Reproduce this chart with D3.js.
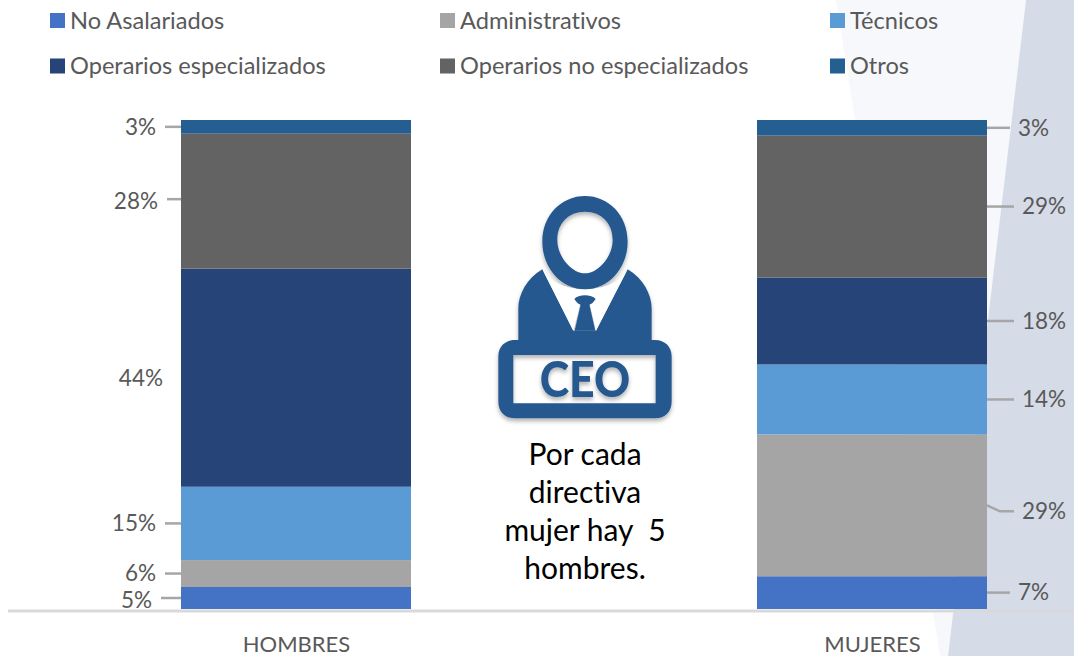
<!DOCTYPE html>
<html>
<head>
<meta charset="utf-8">
<script src="https://cdn.jsdelivr.net/npm/d3@7/dist/d3.min.js"></script>
<style>
html,body{margin:0;padding:0;background:#fff}
svg{display:block}
text{font-family:Lato,"Open Sans",sans-serif;font-variant-ligatures:none}
</style>
</head>
<body>
<div class="chart"></div>
<script>
const categories=['HOMBRES','MUJERES']
const seriesNames=['No Asalariados','Administrativos','Técnicos','Operarios especializados','Operarios no especializados','Otros']
const hombres=[4.5,5.5,15,44.6,27.6,2.8]
const mujeres=[6.7,29,14.3,17.8,29,3.2]
const hombresLabels=['5%','6%','15%','44%','28%','3%']
const mujeresLabels=['7%','29%','14%','18%','29%','3%']
const captionLines=['Por cada','directiva','mujer hay  5','hombres.']
const seriesColors=['#4472c4','#a5a5a5','#5b9bd5','#264478','#636363','#255e91']

const width=1074,height=656
const barWidth=230
const textColor='#595959',leaderColor='#a6a6a6'

let svg=d3.select('.chart').append('svg')
    .attr('width',width)
    .attr('height',height)

// slide background
svg.append('rect').attr('width',width).attr('height',height).attr('fill','#fff')
svg.append('path').attr('d','M836,0 L1026,0 L948,656 L940,656 Z').attr('fill','#f6f8fb')
svg.append('path').attr('d','M1026,0 L1074,0 L1074,656 L948,656 Z').attr('fill','#d5dce8')

const x=d3.scalePoint().domain(categories).range([296,872])
const y=d3.scaleLinear().domain([0,100]).range([609,120])

const rows=categories.map((c,i)=>{
    const vals=i==0?hombres:mujeres
    const row={category:c}
    seriesNames.forEach((s,j)=>row[s]=vals[j])
    return row
})
const stacked=d3.stack().keys(seriesNames)(rows)

// baseline
svg.append('line')
    .attr('x1',8).attr('x2',width)
    .attr('y1',611).attr('y2',611)
    .attr('stroke','#d9d9d9').attr('stroke-width',3)

stacked.forEach((layer,j)=>{
    svg.append('g').selectAll('rect')
        .data(layer)
        .join('rect')
        .attr('x',d=>x(d.data.category)-barWidth/2)
        .attr('width',barWidth)
        .attr('y',d=>y(d[1]))
        .attr('height',d=>y(d[0])-y(d[1]))
        .attr('fill',seriesColors[j])
})

// category labels
let axis=svg.append('g')
    .attr('transform','translate(0,636)')
    .call(d3.axisBottom(x).tickSize(0).tickPadding(0))
axis.select('.domain').remove()
axis.selectAll('text')
    .attr('font-size',22)
    .attr('fill',textColor)
    .style('font-family','Lato')

// data labels with leader lines, lengths as they sit on the slide
const leftLeader=[20,16,16,0,14,16]
const leftLineShift=[0,0,0,0,-2,0]
const leftTextShift=[2,0,0,0,0,0]
const rightLeader=[23,27,27,27,27,23]
const rightDrop=[0,6,0,0,0,0]

function midY(j,i){
    const d=stacked[j][i]
    return y((d[0]+d[1])/2)
}

hombresLabels.forEach((t,j)=>{
    const x0=x(categories[0])-barWidth/2,yy=midY(j,0)
    const len=leftLeader[j]
    if(len>0){
        svg.append('line')
            .attr('x1',x0-len).attr('x2',x0)
            .attr('y1',yy+leftLineShift[j]).attr('y2',yy+leftLineShift[j])
            .attr('stroke',leaderColor).attr('stroke-width',2.5)
    }
    svg.append('text')
        .attr('x',x0-(len>0?len+9:18))
        .attr('y',yy+leftTextShift[j])
        .attr('dy','0.35em')
        .attr('text-anchor','end')
        .attr('font-size',22.5)
        .attr('fill',textColor)
        .text(t)
})

mujeresLabels.forEach((t,j)=>{
    const x0=x(categories[1])+barWidth/2,yy=midY(j,1)
    const len=rightLeader[j],drop=rightDrop[j]
    let pts=[[x0,yy],[x0+len,yy]]
    if(drop>0) pts=[[x0,yy],[x0+13,yy+drop],[x0+len,yy+drop]]
    svg.append('path')
        .attr('d',d3.line()(pts))
        .attr('fill','none')
        .attr('stroke',leaderColor).attr('stroke-width',2.5)
    svg.append('text')
        .attr('x',x0+len+8)
        .attr('y',yy+drop)
        .attr('dy','0.35em')
        .attr('font-size',22.5)
        .attr('fill',textColor)
        .text(t)
})

// legend
const legendX=d3.scalePoint().domain([0,1,2]).range([50,830])
const legendY=d3.scalePoint().domain([0,1]).range([20.5,66])
let legend=svg.append('g').selectAll('g')
    .data(seriesNames)
    .join('g')
    .attr('transform',(d,i)=>'translate('+legendX(i%3)+','+legendY(Math.floor(i/3))+')')
legend.append('rect')
    .attr('y',-7.5).attr('width',15).attr('height',15)
    .attr('fill',(d,i)=>seriesColors[i])
legend.append('text')
    .attr('x',20)
    .attr('dy','0.35em')
    .attr('font-size',23.6)
    .attr('fill',textColor)
    .text(d=>d)

// CEO icon, drawn in zoom units of the original clip art
const blue='#255890'
let defs=svg.append('defs')
let shadow=defs.append('filter').attr('id','soft').attr('x','-10%').attr('y','-10%').attr('width','120%').attr('height','125%')
shadow.append('feDropShadow').attr('dx',0).attr('dy',9).attr('stdDeviation',6).attr('flood-color','#000').attr('flood-opacity',0.3)

let icon=svg.append('g')
    .attr('transform','translate(480,180) scale(0.3333)')
    .attr('filter','url(#soft)')
icon.append('path')
    .attr('fill',blue)
    .attr('d','M187,268 L280,452 L348,452 L443,268 C490,295 515,345 515,385 L515,490 L115,490 L115,385 C115,345 140,295 187,268 Z')
icon.append('path')
    .attr('fill','#fff')
    .attr('d','M187,268 L280,452 L300,372 L330,372 L348,452 L443,268 C420,310 370,328 315,328 C260,328 210,310 187,268 Z')
icon.append('path')
    .attr('fill',blue)
    .attr('fill-rule','evenodd')
    .attr('d','M315,48 C385,48 443,105 443,185 C443,265 385,328 315,328 C245,328 187,265 187,185 C187,105 245,48 315,48 Z '
        +'M315,95 C265,95 232,130 232,180 C232,230 275,280 315,280 C355,280 398,230 398,180 C398,130 365,95 315,95 Z')
icon.append('path')
    .attr('fill',blue)
    .attr('d','M283,357 C295,342 335,342 347,357 C340,368 335,372 328,374 L346,452 L284,452 L302,374 C295,372 290,368 283,357 Z')
icon.append('path')
    .attr('fill',blue)
    .attr('fill-rule','evenodd')
    .attr('d','M105,480 L525,480 C555,480 575,500 575,530 L575,665 C575,695 555,715 525,715 L105,715 C75,715 55,695 55,665 L55,530 C55,500 75,480 105,480 Z '
        +'M100,525 L100,670 L527,670 L527,525 Z')
icon.append('text')
    .attr('x',315).attr('y',650)
    .attr('text-anchor','middle')
    .attr('font-size',146)
    .attr('font-weight',900)
    .attr('textLength',272)
    .attr('lengthAdjust','spacingAndGlyphs')
    .attr('fill',blue)
    .text('CEO')

// caption
svg.append('g').selectAll('text')
    .data(captionLines)
    .join('text')
    .attr('x',585)
    .attr('y',(d,i)=>465+i*38)
    .attr('text-anchor','middle')
    .attr('font-size',30)
    .attr('fill','#000')
    .style('white-space','pre')
    .text(d=>d)
</script>
</body>
</html>
